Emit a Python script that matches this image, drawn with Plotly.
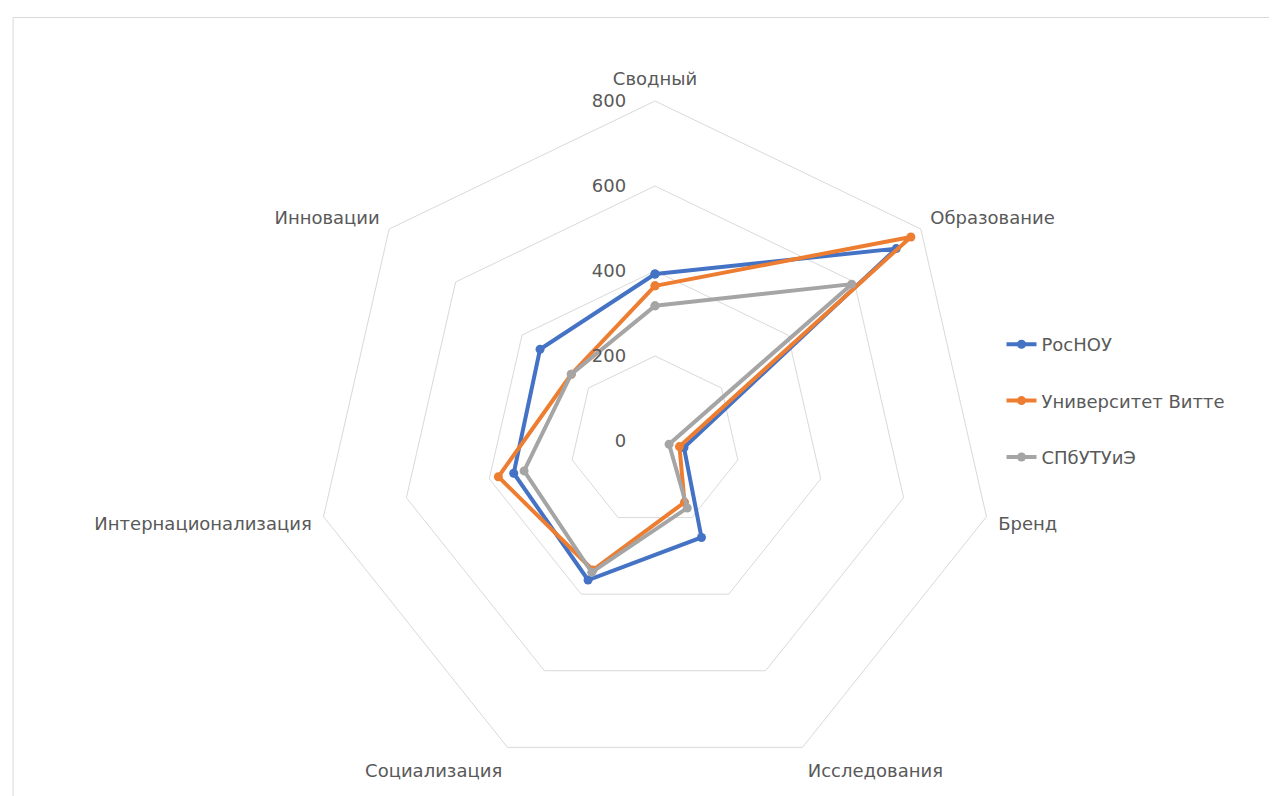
import plotly.graph_objects as go

categories = ["Сводный", "Образование", "Бренд", "Исследования",
              "Социализация", "Интернационализация", "Инновации"]
series_names = ["РосНОУ", "Университет Витте", "СПбУТУиЭ"]
rosnou = [393, 726, 70, 252, 363, 341, 346]
vitte = [365, 770, 59, 160, 337, 378, 252]
spbutuie = [318, 592, 34, 175, 343, 316, 252]
colors = ["#4472C4", "#ED7D31", "#A5A5A5"]
tick_vals = [0, 200, 400, 600, 800]

W, H = 1277, 796
cx, cy, R = 647, 433, 340
FONT = "DejaVu Sans, Open Sans, sans-serif"

fig = go.Figure()
for name, vals, col in zip(series_names, [rosnou, vitte, spbutuie], colors):
    fig.add_trace(go.Scatterpolar(
        r=vals + vals[:1], theta=categories + categories[:1],
        mode="lines+markers", name=name, legendgroup=name,
        line=dict(color=col, width=4),
        marker=dict(color=col, size=9),
    ))

fig.update_layout(
    width=W, height=H,
    margin=dict(l=0, r=0, t=0, b=0),
    paper_bgcolor="white",
    font=dict(family=FONT, color="#595959", size=18),
    showlegend=True,
    legend=dict(x=0.778, y=(H - 318) / H, xanchor="left", yanchor="top",
                tracegroupgap=30, font=dict(size=18, color="#595959", family=FONT),
                bgcolor="rgba(0,0,0,0)"),
    polar=dict(
        domain=dict(x=[(cx - R) / W, (cx + R) / W],
                    y=[(H - cy - R) / H, (H - cy + R) / H]),
        bgcolor="white",
        gridshape="linear",
        radialaxis=dict(range=[0, 800], tickvals=tick_vals,
                        ticktext=[str(v) for v in tick_vals],
                        angle=90, side="counterclockwise", tickangle=90,
                        showline=False, ticks="outside", ticklen=22,
                        tickcolor="rgba(0,0,0,0)",
                        gridcolor="#D9D9D9", gridwidth=1,
                        tickfont=dict(size=18, color="#595959", family=FONT)),
        angularaxis=dict(rotation=90, direction="clockwise",
                         showgrid=False, showline=True,
                         linecolor="#D9D9D9", linewidth=1,
                         ticks="outside", ticklen=8, tickcolor="rgba(0,0,0,0)",
                         tickfont=dict(size=18, color="#595959", family=FONT)),
    ),
    shapes=[dict(type="rect", xref="paper", yref="paper", x0=0.004, y0=0.0, x1=0.998, y1=0.988,
                 line=dict(color="#D9D9D9", width=1), fillcolor="rgba(0,0,0,0)", layer="below")],
)

fig.write_html("out.html")
